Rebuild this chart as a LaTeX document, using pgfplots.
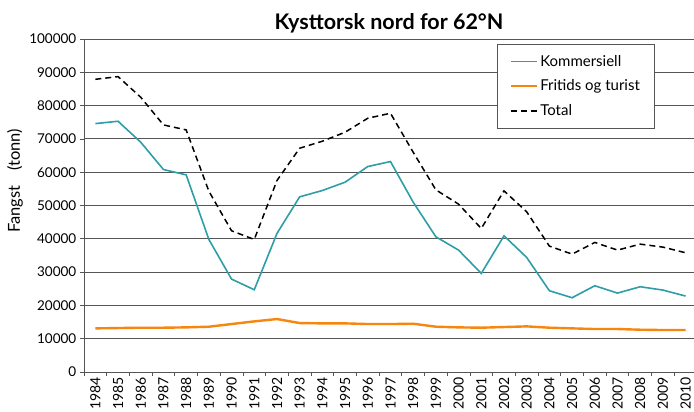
\documentclass[border=0pt]{standalone}
\usepackage{pgfplots}
\pgfplotsset{compat=1.18}
\usepackage{fontspec}
\setmainfont{Lato}
\definecolor{teal1}{HTML}{2E9EA6}
\definecolor{orange1}{HTML}{F7860F}
\definecolor{gridc}{HTML}{555555}
\begin{document}
\begin{tikzpicture}
\begin{axis}[
  scale only axis,
  width=610pt, height=333pt,
  at={(0,0)}, anchor=south west,
  xmin=-0.5, xmax=26.37,
  ymin=0, ymax=100000,
  axis x line=bottom, axis y line=left,
  axis line style={-, line width=0.8pt, color=gridc},
  xtick={0,...,26},
  xticklabels={1984,1985,1986,1987,1988,1989,1990,1991,1992,1993,1994,1995,1996,1997,1998,1999,2000,2001,2002,2003,2004,2005,2006,2007,2008,2009,2010},
  major x tick style={draw=none},
  minor xtick={-0.5,0.5,...,26.5},
  minor x tick style={line width=0.7pt, color=gridc},
  minor tick length=4pt,
  ytick={0,10000,...,100000},
  scaled y ticks=false,
  /pgf/number format/fixed,
  /pgf/number format/1000 sep={},
  /pgf/number format/assume math mode=true,
  y tick style={line width=0.7pt, color=gridc},
  tick align=outside,
  major tick length=4pt,
  ymajorgrids,
  major grid style={line width=0.8pt, color=gridc},
  xticklabel style={font=\fontsize{14}{16}\selectfont, rotate=90, anchor=east, inner sep=1pt},
  yticklabel style={font=\fontsize{13.5}{15}\selectfont, inner sep=3.5pt},
  title={\textbf{Kysttorsk nord for 62°N}},
  title style={font=\fontsize{21.5}{24}\selectfont, at={(axis description cs:0.5,1)}, anchor=south, yshift=-4pt},
  ylabel={Fangst\hspace{0.9em}(tonn)},
  ylabel style={font=\fontsize{16.5}{18}\selectfont, at={(axis description cs:-0.113,0.574)}, anchor=center},
  legend style={at={(0.935,0.985)}, anchor=north east, draw=gridc, line width=0.8pt, font=\fontsize{15}{18}\selectfont, row sep=8pt, inner xsep=12pt, inner ysep=9pt},
  legend cell align=left,
  legend image code/.code={\draw[#1] (0pt,0pt) -- (26pt,0pt);},
  clip=false,
]
\addplot[color=teal1, line width=1.6pt] coordinates {
(0,74600)(1,75300)(2,69000)(3,60800)(4,59200)(5,39800)(6,27900)(7,24700)(8,41600)(9,52600)
(10,54500)(11,57000)(12,61700)(13,63200)(14,51000)(15,40600)(16,36600)(17,29600)(18,40900)(19,34400)
(20,24400)(21,22300)(22,25900)(23,23700)(24,25600)(25,24600)(26,22800)};
\addlegendentry{Kommersiell}
\addplot[color=orange1, line width=2.4pt] coordinates {
(0,13100)(1,13200)(2,13300)(3,13300)(4,13400)(5,13600)(6,14400)(7,15200)(8,15900)(9,14700)
(10,14600)(11,14600)(12,14400)(13,14400)(14,14500)(15,13600)(16,13400)(17,13300)(18,13500)(19,13700)
(20,13300)(21,13100)(22,12900)(23,12900)(24,12700)(25,12600)(26,12600)};
\addlegendentry{Fritids og turist}
\addplot[color=black, line width=1.5pt, dash pattern=on 6pt off 4pt] coordinates {
(0,87900)(1,88700)(2,82500)(3,74200)(4,72700)(5,54300)(6,42400)(7,39800)(8,57500)(9,67200)
(10,69300)(11,72000)(12,76200)(13,77700)(14,66000)(15,54700)(16,50400)(17,43100)(18,54400)(19,48100)
(20,37800)(21,35400)(22,38900)(23,36600)(24,38400)(25,37500)(26,35800)};
\addlegendentry{Total}
\end{axis}
\pgfresetboundingbox
\path[use as bounding box] (-84pt,-40pt) rectangle (610pt,372pt);
\end{tikzpicture}
\end{document}
